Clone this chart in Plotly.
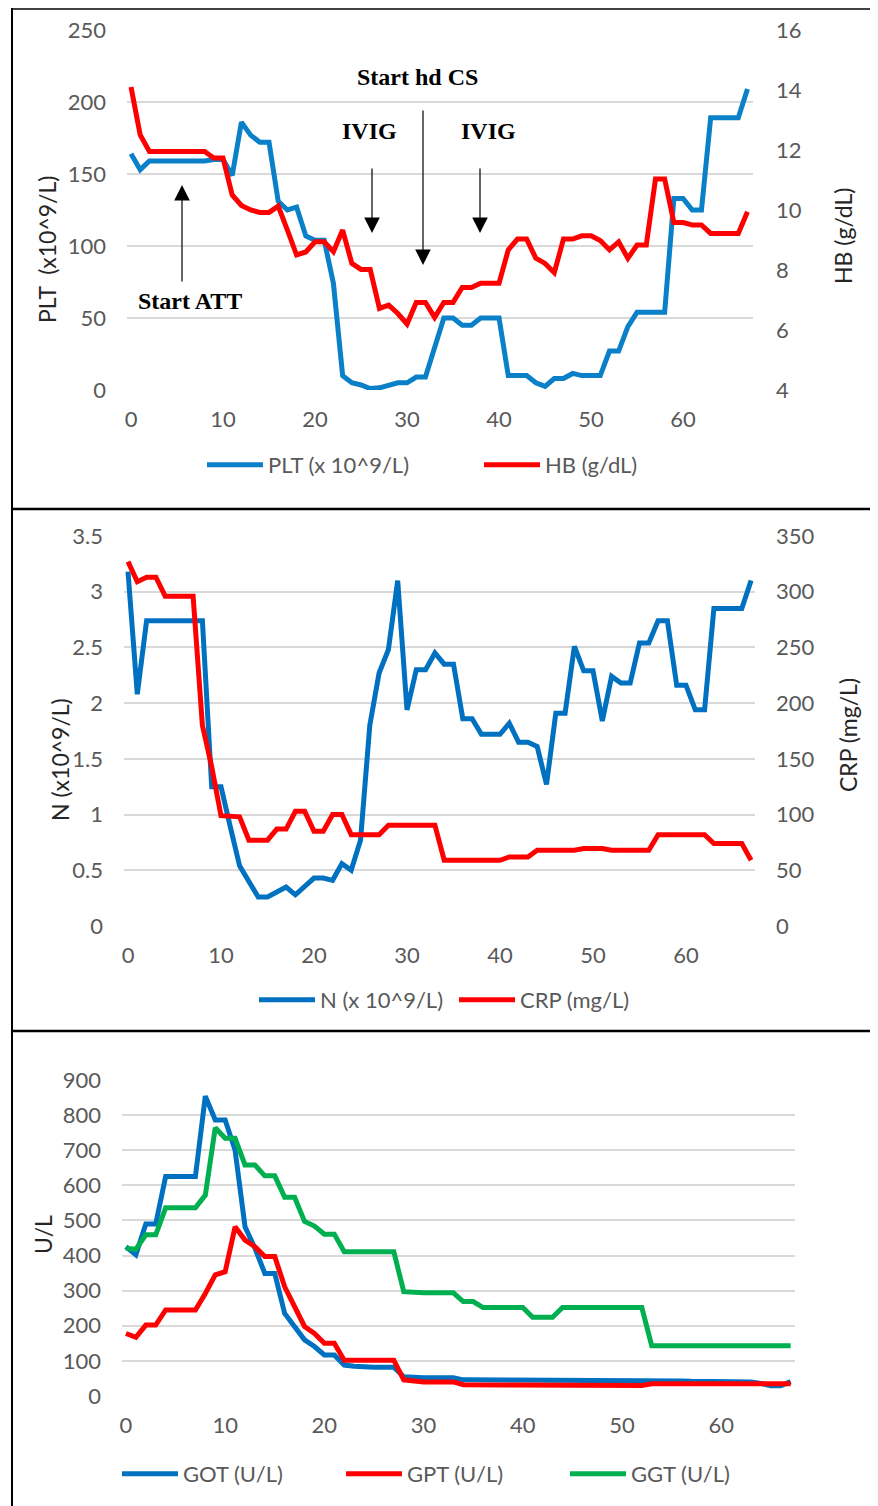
import plotly.graph_objects as go

days = list(range(68))

PLT = [164, 153, 159, 159, 159, 159, 159, 159, 159, 160, 160, 149, 186, 177, 172, 172, 131, 125, 127, 107,
       104, 104, 74, 10, 5, 3.5, 1, 1.5, 3, 5, 5, 9, 9, 31, 50, 50, 45, 45, 50, 50,
       50, 10, 10, 10, 5, 2.5, 8, 8, 11.5, 10, 10, 10, 27, 27, 44, 54, 54, 54, 54, 133,
       133, 125, 125, 189, 189, 189, 189, 209]
HB = [14.1, 12.5, 11.95, 11.95, 11.95, 11.95, 11.95, 11.95, 11.95, 11.73, 11.73, 10.5, 10.15, 10.0, 9.92, 9.92,
      10.13, 9.33, 8.5, 8.6, 8.94, 8.94, 8.61, 9.33, 8.22, 8.02, 8.02, 6.72, 6.83, 6.55, 6.2, 6.92, 6.92, 6.42,
      6.92, 6.92, 7.42, 7.42, 7.56, 7.56, 7.56, 8.67, 9.03, 9.03, 8.39, 8.22, 7.91, 9.03, 9.03, 9.14, 9.14,
      8.98, 8.67, 8.94, 8.39, 8.83, 8.83, 11.03, 11.03, 9.58, 9.58, 9.5, 9.5, 9.22, 9.22, 9.22, 9.22, 9.94]

N = [3.18, 2.08, 2.74, 2.74, 2.74, 2.74, 2.74, 2.74, 2.74, 1.25, 1.25, 0.89, 0.54, 0.40, 0.26, 0.26, 0.30,
     0.35, 0.28, 0.35, 0.43, 0.43, 0.41, 0.56, 0.50, 0.77, 1.80, 2.27, 2.48, 3.10, 1.94, 2.30, 2.30, 2.45,
     2.35, 2.35, 1.86, 1.86, 1.72, 1.72, 1.72, 1.82, 1.65, 1.65, 1.61, 1.27, 1.91, 1.91, 2.51, 2.29, 2.29,
     1.84, 2.24, 2.18, 2.18, 2.54, 2.54, 2.74, 2.74, 2.16, 2.16, 1.94, 1.94, 2.85, 2.85, 2.85, 2.85, 3.10]
CRP = [327, 309, 313, 313, 296, 296, 296, 296, 180, 143, 99, 99, 98, 77, 77, 77, 87, 87, 103, 103, 85, 85,
       100, 100, 82, 82, 82, 82, 90.5, 90.5, 90.5, 90.5, 90.5, 90.5, 59, 59, 59, 59, 59, 59, 59, 62, 62, 62,
       68, 68, 68, 68, 68, 69.5, 69.5, 69.5, 68, 68, 68, 68, 68, 82, 82, 82, 82, 82, 82, 74, 74, 74, 74, 59]

GOT = [425, 402, 490, 490, 625, 625, 625, 625, 854, 786, 786, 700, 482, 421, 349, 349, 235, 198, 160, 141,
       117, 117, 88, 85, 82, 82, 82, 82, 55, 52, 52, 52, 52, 52, 46, 46, 45, 45, 45, 44, 44, 43, 43, 43,
       43, 43, 43, 43, 43, 43, 43, 43, 43, 43, 43, 43, 43, 42, 42, 42, 42, 42, 42, 40, 36, 29, 29, 41]
GPT = [178, 167, 202, 202, 245, 245, 245, 245, 292, 345, 354, 482, 444, 425, 397, 397, 311, 254, 198, 178,
       150, 150, 102, 102, 102, 102, 102, 102, 46, 42, 40, 40, 40, 40, 32, 31, 31, 31, 31, 31, 31, 31, 30,
       30, 30, 30, 30, 30, 30, 30, 30, 30, 30, 35, 35, 35, 35, 35, 35, 35, 35, 35, 35, 35, 35, 35, 35, 35]
GGT = [421, 418, 459, 459, 536, 536, 536, 536, 572, 764, 734, 734, 658, 658, 627, 627, 566, 566, 497, 484,
       461, 461, 411, 411, 411, 411, 411, 411, 297, 294, 294, 294, 294, 294, 269, 269, 252, 252, 252, 252,
       252, 224, 224, 224, 252, 252, 252, 252, 252, 252, 252, 252, 252, 143, 143, 143, 143, 143, 143, 143,
       143, 143, 143, 143, 143, 143, 143, 143]

# page is 878x1506; the html body adds an 8px margin, so the figure is 870x1498
OFF = 8
W, H = 878 - OFF, 1506 - OFF


def fx(p):
    return (p - OFF) / W


def fy(p):
    return 1 - (p - OFF) / H


BLUE1 = "#0A80C8"
BLUE = "#0070C0"
RED = "#FF0000"
GREEN = "#00B050"
GRID = "#D9D9D9"
TICKC = "#595959"
SANS = "Lato, sans-serif"
SERIF = "Liberation Serif, Times New Roman, serif"
TICKFONT = dict(family=SANS, size=22, color=TICKC)
LW = 5
IW = 56  # legend symbol width

fig = go.Figure()
fig.add_trace(go.Scatter(x=days, y=PLT, name="PLT (x 10^9/L)", mode="lines",
                         line=dict(color=BLUE1, width=LW), xaxis="x", yaxis="y", legend="legend"))
fig.add_trace(go.Scatter(x=days, y=HB, name="HB (g/dL)", mode="lines", legendwidth=100,
                         line=dict(color=RED, width=LW), xaxis="x", yaxis="y2", legend="legend"))
fig.add_trace(go.Scatter(x=days, y=N, name="N (x 10^9/L)", mode="lines",
                         line=dict(color=BLUE, width=LW), xaxis="x2", yaxis="y3", legend="legend2"))
fig.add_trace(go.Scatter(x=days, y=CRP, name="CRP (mg/L)", mode="lines", legendwidth=110,
                         line=dict(color=RED, width=LW), xaxis="x2", yaxis="y4", legend="legend2"))
fig.add_trace(go.Scatter(x=days, y=GOT, name="GOT (U/L)", mode="lines",
                         line=dict(color=BLUE, width=LW), xaxis="x3", yaxis="y5", legend="legend3"))
fig.add_trace(go.Scatter(x=days, y=GPT, name="GPT (U/L)", mode="lines",
                         line=dict(color=RED, width=LW), xaxis="x3", yaxis="y5", legend="legend3"))
fig.add_trace(go.Scatter(x=days, y=GGT, name="GGT (U/L)", mode="lines", legendwidth=100,
                         line=dict(color=GREEN, width=LW), xaxis="x3", yaxis="y5", legend="legend3"))

xcommon = dict(showgrid=False, zeroline=False, showline=False, ticks="", tickfont=TICKFONT,
               tickmode="linear", tick0=0, dtick=10, ticklabelstandoff=14)
ycommon = dict(showgrid=True, gridcolor=GRID, gridwidth=1.5, zeroline=False, showline=False,
               ticks="", tickfont=TICKFONT, tickmode="linear", tick0=0)

legfont = dict(family=SANS, size=22, color=TICKC)
gap = IW + 10 + 5  # textGap + itemGap added by the legend to each entry

layout = dict(
    width=W, height=H, margin=dict(l=0, r=0, t=0, b=0, autoexpand=False),
    paper_bgcolor="white", plot_bgcolor="white", showlegend=True,
    xaxis=dict(xcommon, domain=[fx(127), fx(753)], range=[-0.435, 67.6], anchor="y"),
    yaxis=dict(ycommon, domain=[fy(390), fy(30)], range=[0, 250], dtick=50, anchor="x",
               ticklabelstandoff=20),
    yaxis2=dict(ycommon, overlaying="y", side="right", range=[4, 16], dtick=2, tick0=4,
                showgrid=False, anchor="x", ticklabelstandoff=22),
    xaxis2=dict(xcommon, domain=[fx(124), fx(755)], range=[-0.43, 67.42], anchor="y3"),
    yaxis3=dict(ycommon, domain=[fy(926), fy(536)], range=[0, 3.5], dtick=0.5, anchor="x2",
                ticklabelstandoff=20),
    yaxis4=dict(ycommon, overlaying="y3", side="right", range=[0, 350], dtick=50,
                showgrid=False, anchor="x2", ticklabelstandoff=20),
    xaxis3=dict(xcommon, domain=[fx(122), fx(795)], range=[-0.40, 67.44], anchor="y5"),
    yaxis5=dict(ycommon, domain=[fy(1396), fy(1080)], range=[0, 900], dtick=100, anchor="x3",
                ticklabelstandoff=20),
    legend=dict(orientation="h", x=fx(202), xanchor="left", y=fy(465), yanchor="middle",
                font=legfont, itemwidth=IW, entrywidth=277 - gap, entrywidthmode="pixels",
                bgcolor="rgba(0,0,0,0)"),
    legend2=dict(orientation="h", x=fx(254), xanchor="left", y=fy(1000), yanchor="middle",
                 font=legfont, itemwidth=IW, entrywidth=200 - gap, entrywidthmode="pixels",
                 bgcolor="rgba(0,0,0,0)"),
    legend3=dict(orientation="h", x=fx(117), xanchor="left", y=fy(1474), yanchor="middle",
                 font=legfont, itemwidth=IW, entrywidth=224 - gap, entrywidthmode="pixels",
                 bgcolor="rgba(0,0,0,0)"),
)
fig.update_layout(**layout)

TITLEC = "#262626"
annotations = []


def label(text, xp, yp, angle=0, font=None):
    annotations.append(dict(text=text, x=fx(xp), y=fy(yp), xref="paper", yref="paper",
                            showarrow=False, textangle=angle, xanchor="center", yanchor="middle",
                            font=font))


axis_font = dict(family=SANS, size=23, color=TITLEC)
label("PLT  (x10^9/L)", 47, 250, -90, axis_font)
label("HB (g/dL)", 843, 236, -90, axis_font)
label("N (x10^9/L)", 60, 760, -90, axis_font)
label("CRP (mg/L)", 848, 735, -90, axis_font)
label("U/L", 43, 1235, -90, axis_font)

note_font = dict(family=SERIF, size=24, color="black")
label("<b>Start hd CS</b>", 417, 77, 0, note_font)
label("<b>IVIG</b>", 369, 131, 0, note_font)
label("<b>IVIG</b>", 489, 131, 0, note_font)
label("<b>Start ATT</b>", 190, 301, 0, note_font)


def arrow(xp, tip_y, tail_y):
    annotations.append(dict(text="", x=fx(xp), y=fy(tip_y), xref="paper", yref="paper",
                            showarrow=True, ax=0, ay=tail_y - tip_y, axref="pixel", ayref="pixel",
                            arrowhead=2, arrowsize=2.6, arrowwidth=1.2, arrowcolor="black",
                            standoff=0))


arrow(182, 185, 283)
arrow(372, 233, 167)
arrow(423, 265, 109)
arrow(480, 233, 167)

fig.update_layout(annotations=annotations)

shapes = []
for (x0, y0, x1, y1, w) in [(12, 9, 878, 9, 1.5), (12, 8, 12, 1506, 2.0),
                            (12, 509, 878, 509, 2.5), (12, 1031, 878, 1031, 2.5)]:
    shapes.append(dict(type="line", xref="paper", yref="paper", x0=fx(x0), y0=fy(y0),
                       x1=fx(x1), y1=fy(y1), line=dict(color="black", width=w)))
fig.update_layout(shapes=shapes)

fig.write_html("out.html")
